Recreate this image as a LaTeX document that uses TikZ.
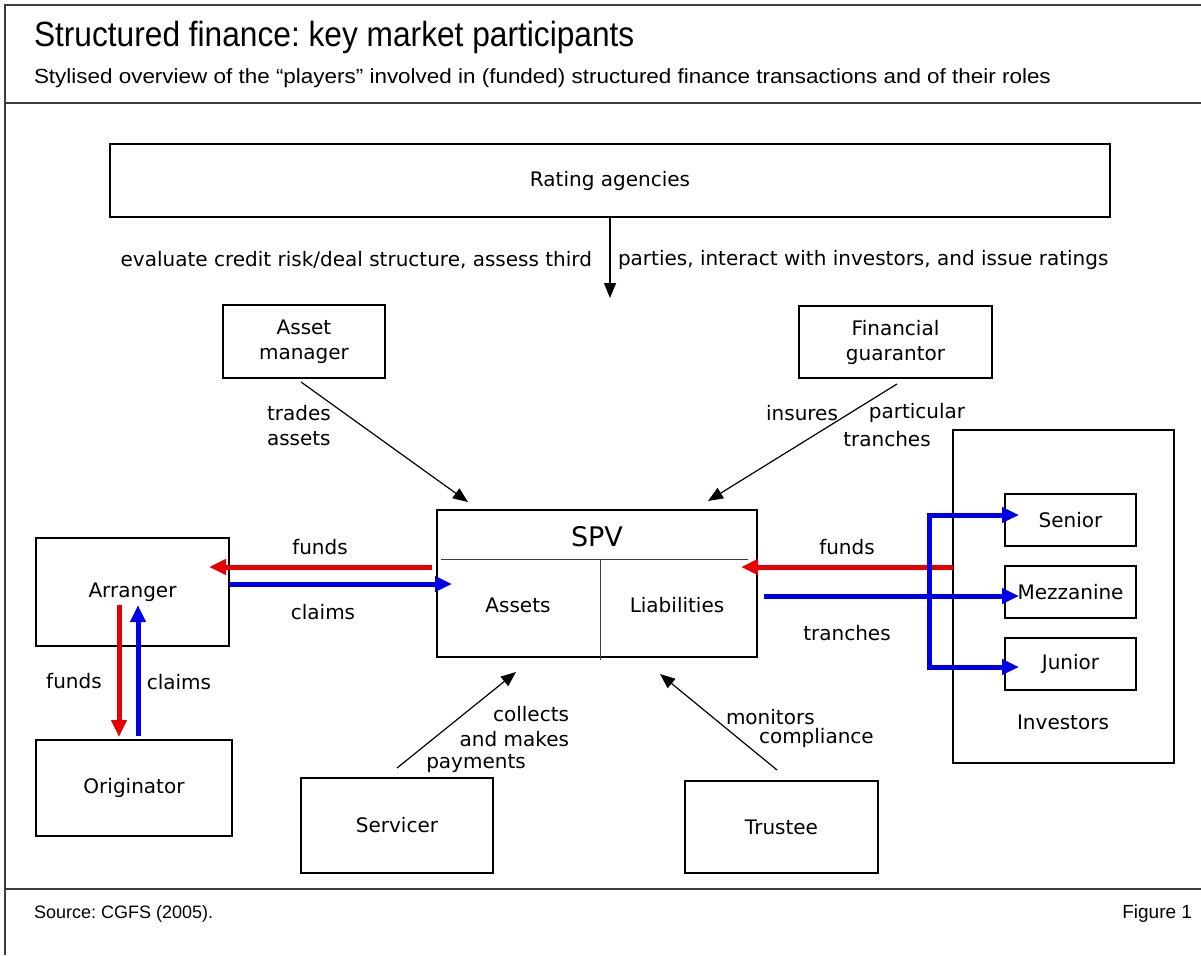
\documentclass[tikz,border=0pt]{standalone}
\usepackage{fontspec}
\setmainfont{DejaVu Sans}
\newfontfamily\hdfont{Liberation Sans}
\usetikzlibrary{arrows.meta}
\definecolor{fred}{RGB}{232,0,0}
\definecolor{fblue}{RGB}{0,0,232}
\definecolor{frame}{RGB}{60,60,60}
\frenchspacing
\begin{document}
\frenchspacing
\begin{tikzpicture}[x=1pt,y=-1pt,
  every node/.style={font=\fontsize{20}{25}\selectfont, inner sep=0pt, outer sep=0pt},
  box/.style 2 args={draw, line width=1.3pt, minimum width=#1, minimum height=#2},
  arrw/.style={line width=1.2pt, -{Triangle[length=15pt,width=12pt]}},
  redarr/.style={draw=fred, line width=5pt, -{Triangle[length=17pt,width=15pt]}},
  bluearr/.style={draw=fblue, line width=5pt, -{Triangle[length=17pt,width=15pt]}},
  blueline/.style={draw=fblue, line width=5pt},
  rule/.style={draw=frame, line width=2pt},
  hd/.style={font=\hdfont\fontsize{#1}{#1}\selectfont}
]
\useasboundingbox (0,0) rectangle (1201,955);
% frame
\draw[rule] (5,955) -- (5,5) -- (1201,5);
\draw[rule] (5,103) -- (1201,103);
\draw[rule] (5,889) -- (1201,889);
% header and footer
\node[hd=35, anchor=base west] (title) at (34,47) {\scalebox{0.905}[1]{Structured finance: key market participants}};
\node[hd=20.5, anchor=base west] (subtitle) at (34,84) {\scalebox{1.095}[1]{Stylised overview of the “players” involved in (funded) structured finance transactions and of their roles}};
\node[hd=18, anchor=base west] (source) at (34,918) {Source: CGFS (2005).};
\node[hd=19, anchor=base east] (figno) at (1192,918) {Figure 1};
% boxes
\node[box={1000pt}{73pt}] (rating) at (610,180.5) {Rating agencies};
\node[box={162pt}{73pt}, align=center] (asset) at (304,341.5) {Asset\\manager};
\node[box={193pt}{72pt}, align=center] (guar) at (895.5,342) {Financial\\guarantor};
\node[box={320pt}{147pt}] (spv) at (597,583.5) {};
\node (spvt) at (597,537) {\fontsize{27}{30}\selectfont SPV};
\node (assets) at (518,605) {Assets};
\node (liab) at (677,605) {Liabilities};
\coordinate (spvl) at (441,559);
\coordinate (spvr) at (748,559);
\coordinate (spvm) at (600,559);
\coordinate (spvb) at (600,660);
\draw[line width=1pt, draw=frame] (spvl) -- (spvr);
\draw[line width=1pt, draw=frame] (spvm) -- (spvb);
\node[box={193pt}{108pt}] (arranger) at (132.5,592) {Arranger};
\node[box={196pt}{96pt}] (orig) at (134,788) {Originator};
\node[box={192pt}{95pt}] (serv) at (397,825.5) {Servicer};
\node[box={193pt}{92pt}] (trust) at (781.5,827) {Trustee};
\node[box={221pt}{333pt}] (inv) at (1063.5,596.5) {};
\node (invt) at (1063,722) {Investors};
\node[box={131pt}{52pt}] (senior) at (1070.5,520) {Senior};
\node[box={131pt}{52pt}] (mezz) at (1070.5,592) {Mezzanine};
\node[box={131pt}{52pt}] (junior) at (1070.5,664) {Junior};
% rating arrow
\coordinate (ratip) at (610,298);
\draw[arrw] (rating.south -| ratip) -- (ratip);
\node[anchor=east] (ra1) at (592,260) {evaluate credit risk/deal structure, assess third};
\node[anchor=west] (ra2) at (618,260) {parties, interact with investors, and issue ratings};
% asset manager & guarantor
\coordinate (ams) at (301,382);
\coordinate (amt) at (468,502);
\draw[arrw] (ams) -- (amt);
\node[align=left, anchor=west] (trades) at (267,426) {trades\\assets};
\coordinate (fgs) at (897,384);
\coordinate (fgt) at (708,501);
\draw[arrw] (fgs) -- (fgt);
\node (insures) at (802,413) {insures};
\node (particular) at (917,413) {particular};
\node (tranchesg) at (887,439) {tranches};
% servicer & trustee
\coordinate (svs) at (397,768);
\coordinate (svt) at (516,672);
\draw[arrw] (svs) -- (svt);
\node[align=right, anchor=east] (collects) at (569,727) {collects\\and makes};
\node (payments) at (476,764) {payments};
\coordinate (trs) at (777,770);
\coordinate (trt) at (660,674);
\draw[arrw] (trs) -- (trt);
\node[anchor=west] (monitors) at (726,717) {monitors};
\node[anchor=west] (compl) at (759,738) {compliance};
% arranger <-> SPV
\coordinate (fls) at (432,567);
\coordinate (flt) at (209,567);
\draw[redarr] (fls) -- (flt);
\coordinate (cls) at (229,584);
\coordinate (clt) at (452,584);
\draw[bluearr] (cls) -- (clt);
\node (fundsl) at (320,547) {funds};
\node (claimsl) at (323,612) {claims};
% arranger <-> originator
\coordinate (fvs) at (119,605);
\coordinate (fvt) at (119,737);
\draw[redarr] (fvs) -- (fvt);
\coordinate (cvs) at (138,736);
\coordinate (cvt) at (138,605);
\draw[bluearr] (cvs) -- (cvt);
\node (fundsv) at (74,681) {funds};
\node (claimsv) at (179,682) {claims};
% investors <-> SPV
\coordinate (frs) at (953,567);
\coordinate (frt) at (741,567);
\draw[redarr] (frs) -- (frt);
\coordinate (trsp) at (764,596);
\coordinate (trmz) at (1019,596);
\draw[bluearr] (trsp) -- (trmz);
\coordinate (vtop) at (929,515);
\coordinate (vbot) at (929,667);
\draw[blueline] ([yshift=-2.5pt]vtop) -- ([yshift=2.5pt]vbot);
\coordinate (sent) at (1019,515);
\coordinate (junt) at (1019,667);
\draw[bluearr] ([xshift=-2.5pt]vtop) -- (sent);
\draw[bluearr] ([xshift=-2.5pt]vbot) -- (junt);
\node (fundsr) at (847,547) {funds};
\node (tranchesr) at (847,633) {tranches};
\end{tikzpicture}
\end{document}
